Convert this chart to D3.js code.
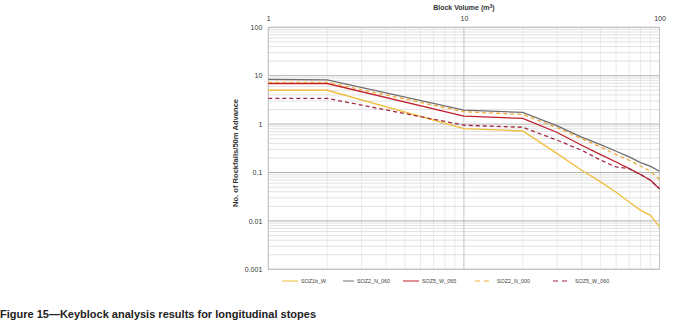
<!DOCTYPE html>
<html>
<head>
<meta charset="utf-8">
<script src="https://cdn.jsdelivr.net/npm/d3@7"></script>
<style>
	body { margin: 0; background: #fff; }
	svg { display: block; font-family: "Liberation Sans", Arial, sans-serif; }
</style>
</head>
<body>
<svg id="chart" width="673" height="327"></svg>
<script>
// block volumes (m3) read at the knees / along the curves
var volumes = [1, 2, 10, 20, 30, 40, 50, 60, 70, 80, 90, 100];

// rockfalls per 50m advance, one array per stope
var soz1b_w    = [5.0, 5.0, 0.81, 0.72, 0.245, 0.111, 0.064, 0.039, 0.0245, 0.0165, 0.013, 0.0074];
var soz2_n_060 = [8.4, 8.2, 1.94, 1.74, 0.92, 0.54, 0.378, 0.275, 0.21, 0.16, 0.134, 0.106];
var soz5_w_065 = [6.9, 6.9, 1.46, 1.31, 0.67, 0.366, 0.234, 0.165, 0.12, 0.091, 0.069, 0.046];
var soz2_n_000 = [7.3, 7.3, 1.8, 1.58, 0.84, 0.50, 0.337, 0.234, 0.179, 0.136, 0.106, 0.072];
var soz5_w_060 = [3.4, 3.4, 0.95, 0.86, 0.465, 0.288, 0.18, 0.13, 0.12, 0.091, 0.069, 0.046];

var series_names = ['SOZ1b_W', 'SOZ2_N_060', 'SOZ5_W_065', 'SOZ2_N_000', 'SOZ5_W_060'];
var x_ticks = [1, 10, 100];
var y_ticks = [100, 10, 1, 0.1, 0.01, 0.001];

var svg = d3.select('#chart');

var x = d3.scaleLog().domain([1, 100]).range([268.3, 659.5]);
var y = d3.scaleLog().domain([0.001, 100]).range([269.3, 27.3]);

// minor + major grid
var minor_x = [], minor_y = [];
for(var d = 1; d < 100; d *= 10) {
	for(var k = 2; k < 10; k++) minor_x.push(d * k);
}
for(var d = 0.001; d < 100; d *= 10) {
	for(var k = 2; k < 10; k++) minor_y.push(d * k);
}

var grid = svg.append('g');
grid.selectAll('.mx').data(minor_x).enter().append('line')
	.attr('x1', function(d) { return x(d); }).attr('x2', function(d) { return x(d); })
	.attr('y1', y(100)).attr('y2', y(0.001))
	.attr('stroke', '#e6e6e6').attr('stroke-width', 0.8);
grid.selectAll('.my').data(minor_y).enter().append('line')
	.attr('y1', function(d) { return y(d); }).attr('y2', function(d) { return y(d); })
	.attr('x1', x(1)).attr('x2', x(100))
	.attr('stroke', '#d9d9d9').attr('stroke-width', 0.8);
grid.selectAll('.Mx').data(x_ticks).enter().append('line')
	.attr('x1', function(d) { return x(d); }).attr('x2', function(d) { return x(d); })
	.attr('y1', y(100)).attr('y2', y(0.001))
	.attr('stroke', '#b8b8b8').attr('stroke-width', 0.8);
grid.selectAll('.My').data(y_ticks).enter().append('line')
	.attr('y1', function(d) { return y(d); }).attr('y2', function(d) { return y(d); })
	.attr('x1', x(1)).attr('x2', x(100))
	.attr('stroke', '#b0b0b0').attr('stroke-width', 1);

svg.append('rect')
	.attr('x', x(1)).attr('y', y(100))
	.attr('width', x(100) - x(1)).attr('height', y(0.001) - y(100))
	.attr('fill', 'none').attr('stroke', '#c4c4c4').attr('stroke-width', 0.8);

// axes: x on top, y on left, no domain / tick marks
var fmt = function(d) { return String(d); };
var x_axis = svg.append('g').attr('transform', 'translate(0,' + y(100) + ')')
	.call(d3.axisTop(x).tickValues(x_ticks).tickFormat(fmt).tickSize(0).tickPadding(6));
var y_axis = svg.append('g').attr('transform', 'translate(' + x(1) + ',0)')
	.call(d3.axisLeft(y).tickValues(y_ticks).tickFormat(fmt).tickSize(0).tickPadding(6));
[x_axis, y_axis].forEach(function(a) {
	a.select('.domain').remove();
	a.selectAll('text').attr('font-size', 7).attr('fill', '#333').attr('font-family', '"Liberation Sans", Arial, sans-serif');
});

svg.append('text').attr('x', x(10)).attr('y', 10)
	.attr('text-anchor', 'middle').attr('font-size', 7).attr('font-weight', 'bold').attr('fill', '#333')
	.html('Block Volume (m<tspan font-size="5" dy="-2">3</tspan><tspan dy="2">)</tspan>');

svg.append('text').attr('transform', 'translate(238,153) rotate(-90)')
	.attr('text-anchor', 'middle').attr('font-size', 7.6).attr('font-weight', 'bold').attr('fill', '#333')
	.text('No. of Rockfalls/50m Advance');

// lines
var styles = [
	{ values: soz1b_w, color: '#f0be3c', dash: null },
	{ values: soz2_n_060, color: '#6e6e6e', dash: null },
	{ values: soz5_w_065, color: '#c0202e', dash: null },
	{ values: soz2_n_000, color: '#f2a93a', dash: '4,3' },
	{ values: soz5_w_060, color: '#a3273e', dash: '4,3' }
];

var line = d3.line()
	.x(function(d) { return x(d[0]); })
	.y(function(d) { return y(d[1]); });

styles.forEach(function(s) {
	var pts = volumes.map(function(v, i) { return [v, s.values[i]]; });
	svg.append('path').datum(pts)
		.attr('d', line)
		.attr('fill', 'none')
		.attr('stroke', s.color)
		.attr('stroke-width', 1.3)
		.attr('stroke-dasharray', s.dash);
});

// legend
var legend_x = [282, 343, 403, 475, 553];
var legend_tx = [301, 357, 422, 497, 575];
var legend = svg.append('g');
styles.forEach(function(s, i) {
	legend.append('line')
		.attr('x1', legend_x[i]).attr('x2', legend_tx[i] - (s.dash ? 7 : 3))
		.attr('y1', 281).attr('y2', 281)
		.attr('stroke', s.color).attr('stroke-width', 1)
		.attr('stroke-dasharray', s.dash ? '5,4' : null);
	legend.append('text')
		.attr('x', legend_tx[i]).attr('y', 283)
		.attr('font-size', 5.4).attr('fill', '#444')
		.text(series_names[i]);
});

// caption
svg.append('text').attr('x', 0).attr('y', 318)
	.attr('font-size', 11).attr('font-weight', 'bold').attr('fill', '#222')
	.text('Figure 15\u2014Keyblock analysis results for longitudinal stopes');
</script>
</body>
</html>
